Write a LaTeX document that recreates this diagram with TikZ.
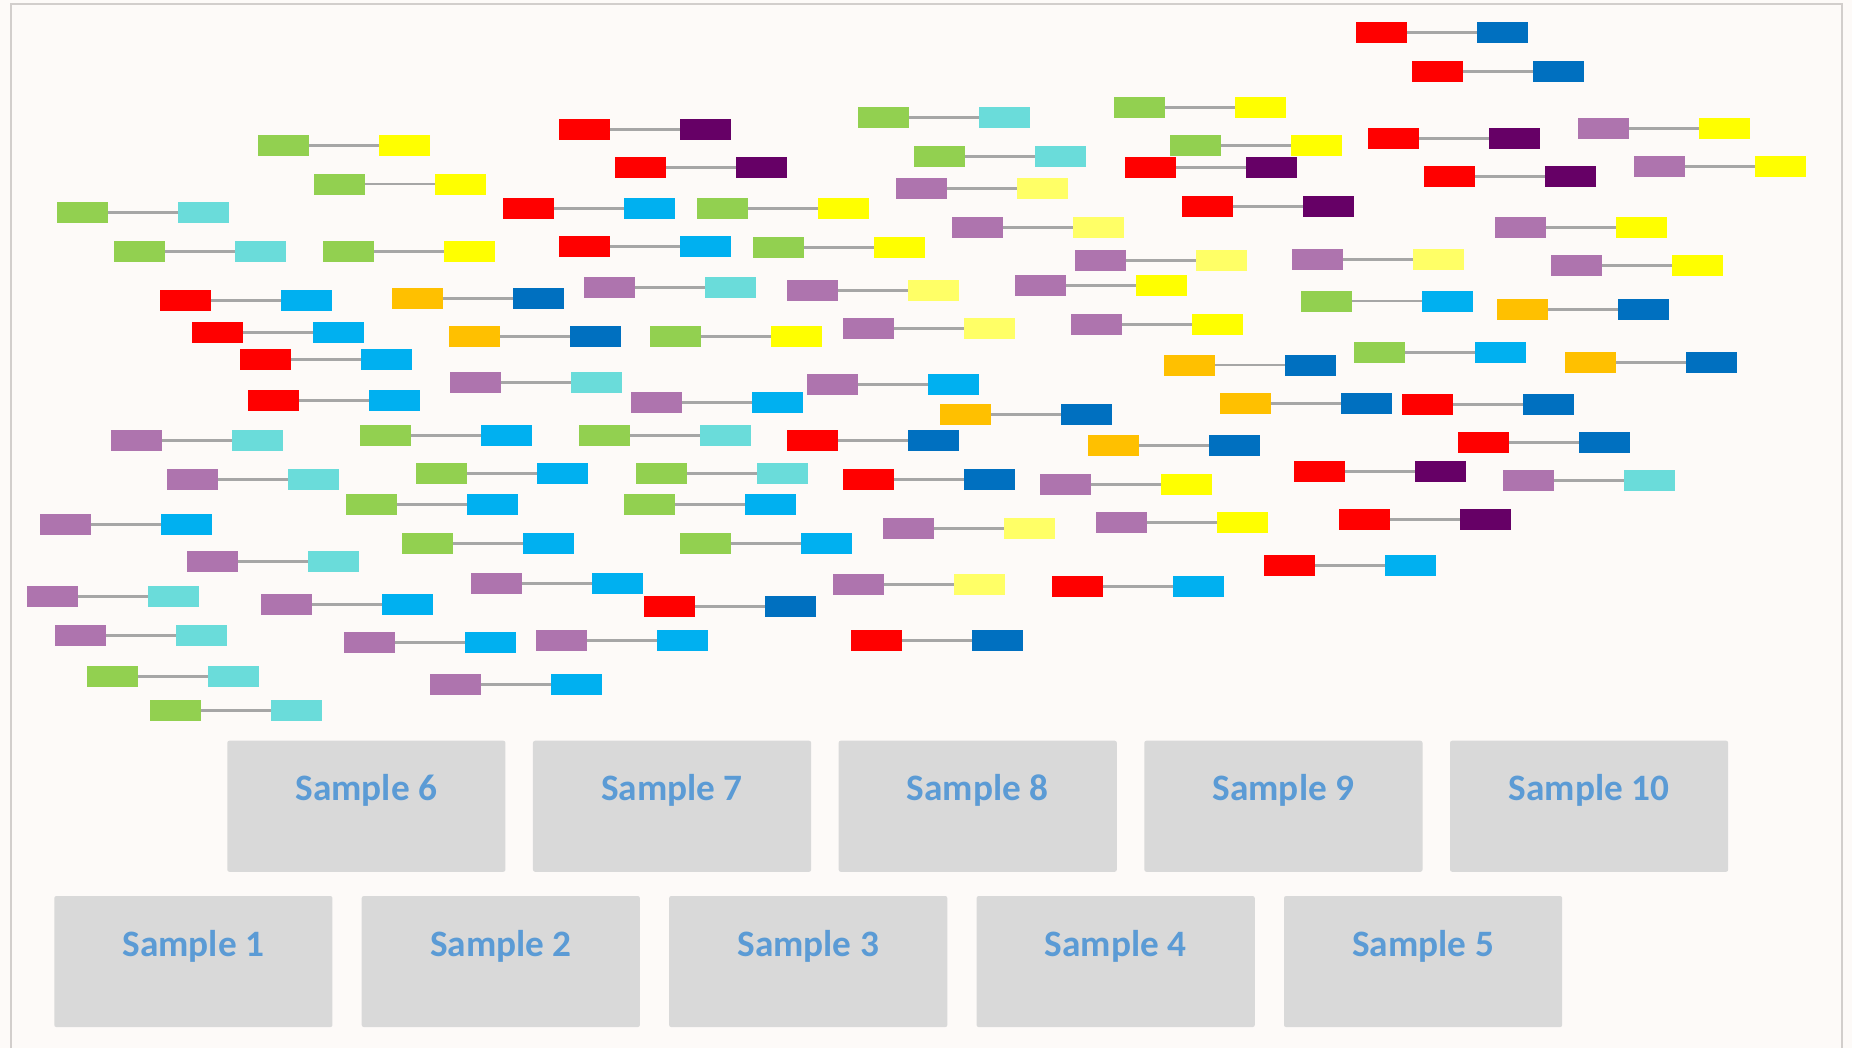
\documentclass[tikz,border=0pt]{standalone}
\usepackage{fontspec}
\setsansfont{Carlito}
\usetikzlibrary{positioning}
\definecolor{brightred}{RGB}{255,0,0}
\definecolor{plum}{RGB}{102,0,102}
\definecolor{leafgreen}{RGB}{146,208,80}
\definecolor{aqua}{RGB}{106,220,218}
\definecolor{lemon}{RGB}{255,255,0}
\definecolor{paleyellow}{RGB}{255,255,102}
\definecolor{skyblue}{RGB}{0,176,240}
\definecolor{deepblue}{RGB}{0,112,192}
\definecolor{amber}{RGB}{255,192,0}
\definecolor{lilac}{RGB}{174,116,174}
\definecolor{linkgray}{RGB}{166,166,166}
\definecolor{boxgray}{RGB}{217,217,217}
\definecolor{labelblue}{RGB}{91,155,213}
\definecolor{bgcream}{RGB}{253,250,248}
\definecolor{framegray}{RGB}{210,206,204}

\begin{document}
\begin{tikzpicture}[
    x=0.01cm, y=-0.01cm,
    node distance=0.7cm,
    bar/.style={rectangle, inner sep=0pt, outer sep=0pt,
        minimum width=0.51cm, minimum height=0.21cm},
    link/.style={draw=linkgray, line width=0.6pt},
    samplebox/.style={rectangle, rounded corners=0.6pt, fill=boxgray, inner sep=0pt, outer sep=0pt,
        minimum width=2.78cm, minimum height=1.31cm, anchor=north west,
        font=\sffamily\bfseries\fontsize{10.6}{13}\selectfont, text=labelblue,
        text height=0.3cm, text depth=0.41cm}
]
    \useasboundingbox (0,0) rectangle (1852,1048);
    \fill[bgcream] (0,0) rectangle (1852,1048);
    \draw[framegray, line width=0.5pt] (10.7,1048) -- (10.7,4) -- (1842,4) -- (1842,1048);

    % linked pairs: left x / centre y / left colour / right colour
    \foreach \px/\py/\cl/\cr [count=\k] in {
        559/129.5/brightred/plum, 258/145.5/leafgreen/lemon, 615/167.5/brightred/plum,
        314/184/leafgreen/lemon, 57/212.5/leafgreen/aqua, 503/208.5/brightred/skyblue,
        114/251.5/leafgreen/aqua, 323/251.5/leafgreen/lemon, 559/246.5/brightred/skyblue,
        160/300.5/brightred/skyblue, 392/298.5/amber/deepblue, 584/287.5/lilac/aqua,
        192/332.5/brightred/skyblue, 449/336.5/amber/deepblue, 240/359.5/brightred/skyblue,
        858/117.5/leafgreen/aqua, 1114/107.5/leafgreen/lemon, 914/156.5/leafgreen/aqua,
        1170/145.5/leafgreen/lemon, 1125/167.5/brightred/plum, 896/188.5/lilac/paleyellow,
        697/208.5/leafgreen/lemon, 1182/206.5/brightred/plum, 952/227.5/lilac/paleyellow,
        753/247.5/leafgreen/lemon, 1075/260.5/lilac/paleyellow, 787/290.5/lilac/paleyellow,
        1015/285.5/lilac/lemon, 650/336.5/leafgreen/lemon, 843/328.5/lilac/paleyellow,
        1071/324.5/lilac/lemon, 1164/365/amber/deepblue,
        1356/32.5/brightred/deepblue, 1412/71.5/brightred/deepblue, 1368/138.5/brightred/plum,
        1578/128.5/lilac/lemon, 1424/176.5/brightred/plum, 1634/166.5/lilac/lemon,
        1495/227.5/lilac/lemon, 1292/259.5/lilac/paleyellow, 1551/265.5/lilac/lemon,
        1301/301/leafgreen/skyblue, 1497/309.5/amber/deepblue, 1354/352.5/leafgreen/skyblue,
        1565/362.5/amber/deepblue,
        450/382.5/lilac/aqua, 248/400.5/brightred/skyblue, 111/440.5/lilac/aqua,
        360/435.5/leafgreen/skyblue, 579/435.5/leafgreen/aqua, 167/479.5/lilac/aqua,
        416/473.5/leafgreen/skyblue, 346/504.5/leafgreen/skyblue, 40/524.5/lilac/skyblue,
        402/543.5/leafgreen/skyblue, 187/561.5/lilac/aqua, 471/583.5/lilac/skyblue,
        27/596.5/lilac/aqua, 261/604.5/lilac/skyblue, 55/635.5/lilac/aqua,
        344/642.5/lilac/skyblue, 536/640.5/lilac/skyblue, 87/676.5/leafgreen/aqua,
        430/684.5/lilac/skyblue, 150/710.5/leafgreen/aqua,
        807/384.5/lilac/skyblue, 631/402.5/lilac/skyblue, 940/414.5/amber/deepblue,
        1220/403.5/amber/deepblue, 787/440.5/brightred/deepblue, 1088/445.5/amber/deepblue,
        636/473.5/leafgreen/aqua, 843/479.5/brightred/deepblue, 1040/484.5/lilac/lemon,
        624/504.5/leafgreen/skyblue, 883/528.5/lilac/paleyellow, 1096/522.5/lilac/lemon,
        680/543.5/leafgreen/skyblue, 833/584.5/lilac/paleyellow, 1052/586.5/brightred/skyblue,
        644/606.5/brightred/deepblue, 851/640.5/brightred/deepblue,
        1402/404.5/brightred/deepblue, 1458/442.5/brightred/deepblue, 1294/471.5/brightred/plum,
        1503/480.5/lilac/aqua, 1339/519.5/brightred/plum, 1264/565.5/brightred/skyblue}
    {
        \node[bar, fill=\cl, anchor=west] (l\k) at (\px,\py) {};
        \node[bar, fill=\cr, right=of l\k] (r\k) {};
        \draw[link] (l\k) -- (r\k);
    }

    % sample boxes
    \node[samplebox] (s6) at (227.3,740.7) {Sample 6};
    \node[samplebox, right=0.275cm of s6] (s7) {Sample 7};
    \node[samplebox, right=0.275cm of s7] (s8) {Sample 8};
    \node[samplebox, right=0.275cm of s8] (s9) {Sample 9};
    \node[samplebox, right=0.275cm of s9] (s10) {Sample 10};
    \node[samplebox] (s1) at (54.3,896) {Sample 1};
    \node[samplebox, right=0.2925cm of s1] (s2) {Sample 2};
    \node[samplebox, right=0.2925cm of s2] (s3) {Sample 3};
    \node[samplebox, right=0.2925cm of s3] (s4) {Sample 4};
    \node[samplebox, right=0.2925cm of s4] (s5) {Sample 5};
\end{tikzpicture}
\end{document}
